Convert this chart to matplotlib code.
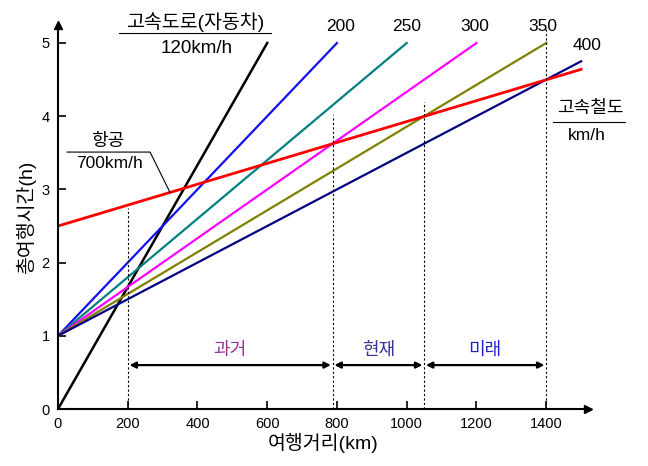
import matplotlib.pyplot as plt

plt.rcParams['font.family'] = ['Liberation Sans', 'Noto Sans CJK KR']

# 고속철도: speed, start/end points
hsr_speed = ['200', '250', '300', '350', '400']
hsr_x_end = [800, 1000, 1200, 1400, 1500]
hsr_y_end = [5.0, 5.0, 5.0, 5.0, 4.75]
hsr_start = 1.0
hsr_colors = ['#1010f0', '#008080', '#ff00ff', '#808000', '#000080']

car_x = [0, 600]
car_y = [0, 5.0]

air_x = [0, 1500]
air_y = [2.5, 4.64]

# dotted break-even lines
vline_x = [200, 787.5, 1050, 1400]
vline_top = [2.75, 4.02, 4.19, 5.2]

# periods
period_names = ['과거', '현재', '미래']
period_start = [200, 787.5, 1050]
period_end = [787.5, 1050, 1400]
period_colors = ['#993399', '#333399', '#2020cc']

fig = plt.figure(figsize=(6.48, 4.66), dpi=100)
ax = fig.add_axes([0.0895, 0.1223, 0.818, 0.8247])

ax.plot(car_x, car_y, color='black', lw=1.8)
for x1, y1, c in zip(hsr_x_end, hsr_y_end, hsr_colors):
    ax.plot([0, x1], [hsr_start, y1], color=c, lw=1.6)
ax.plot(air_x, air_y, color='#ff0000', lw=2.0)

for x, top in zip(vline_x, vline_top):
    ax.plot([x, x], [0, top], color='black', lw=0.8, ls=(0, (2, 2)), clip_on=False)

for name, s, e, c in zip(period_names, period_start, period_end, period_colors):
    ax.annotate('', xy=(e - 5, 0.6), xytext=(s + 5, 0.6),
                arrowprops=dict(arrowstyle='<|-|>', color='black', lw=1.6,
                                mutation_scale=9, shrinkA=0, shrinkB=0))
    ax.text((s + e) / 2, 0.8, name, color=c, fontsize=13, ha='center', va='center',
            fontweight='light')

# speed labels
label_pos = [(809, 5.22), (1001, 5.22), (1196, 5.22), (1391, 5.22), (1517, 4.97)]
for t, (x, y) in zip(hsr_speed, label_pos):
    ax.text(x, y, t, fontsize=12.5, ha='center', va='center', clip_on=False)

ax.text(393, 5.28, '고속도로(자동차)', fontsize=14, ha='center', va='center',
        fontweight='light')
ax.plot([175, 610], [5.13, 5.13], color='black', lw=0.8, clip_on=False)
ax.text(397, 4.93, '120km/h', fontsize=13.5, ha='center', va='center')

ax.text(143, 3.66, '항공', fontsize=13, ha='center', va='center', fontweight='light')
ax.plot([26, 264, 321], [3.51, 3.51, 2.96], color='black', lw=0.8)
ax.text(149, 3.35, '700km/h', fontsize=12.5, ha='center', va='center')

ax.text(1526, 4.11, '고속철도', fontsize=13, ha='center', va='center', clip_on=False,
        fontweight='light')
ax.plot([1420, 1627], [3.92, 3.92], color='black', lw=0.8, clip_on=False)
ax.text(1517, 3.74, 'km/h', fontsize=12.5, ha='center', va='center', clip_on=False)

ax.set_xlim(0, 1520)
ax.set_ylim(0, 5.25)
ax.set_xticks([0, 200, 400, 600, 800, 1000, 1200, 1400])
ax.set_yticks([0, 1, 2, 3, 4, 5])
ax.tick_params(direction='in', length=6, width=1.2, labelsize=10.5, pad=6)
ax.spines['top'].set_visible(False)
ax.spines['right'].set_visible(False)
ax.spines['left'].set_linewidth(1.5)
ax.spines['bottom'].set_linewidth(1.5)
ax.plot(1, 0, '>k', ms=6, transform=ax.transAxes, clip_on=False)
ax.plot(0, 1, '^k', ms=6, transform=ax.transAxes, clip_on=False)

ax.set_xlabel('여행거리(km)', fontsize=14, labelpad=1, fontweight='light')
ax.set_ylabel('총여행시간(h)', fontsize=14, labelpad=4, fontweight='light')

fig.savefig('out.png', dpi=100)
